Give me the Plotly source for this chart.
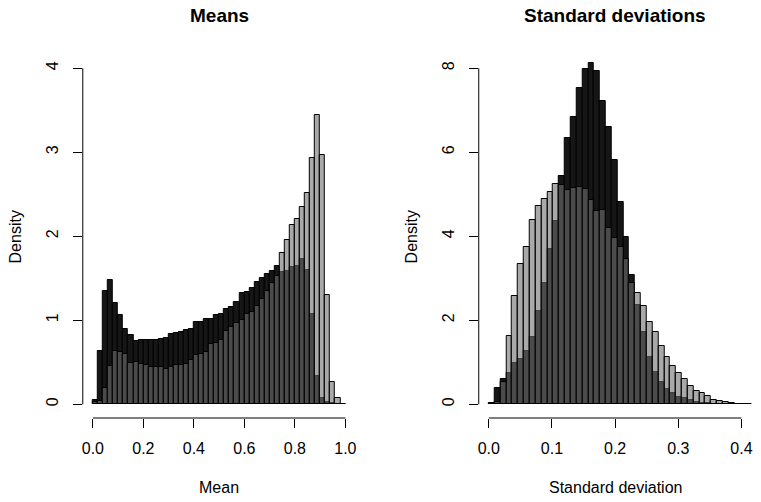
import numpy as np
import plotly.graph_objects as go

# densities (dark = first sample, light = second)
mean_bin_width = 0.02
mean_dark = [0.05, 0.64, 1.35, 1.48, 1.21, 1.06, 0.90, 0.83, 0.75, 0.76,
             0.76, 0.76, 0.77, 0.78, 0.79, 0.84, 0.85, 0.86, 0.88, 0.90,
             0.98, 0.98, 1.01, 1.02, 1.06, 1.07, 1.14, 1.16, 1.22, 1.32,
             1.34, 1.39, 1.46, 1.50, 1.55, 1.59, 1.65, 1.58, 1.59, 1.64,
             1.65, 1.73, 1.60, 1.08, 0.34, 0.07, 0.03, 0.01, 0.0, 0.0]
mean_light = [0.03, 0.04, 0.20, 0.46, 0.63, 0.62, 0.60, 0.49, 0.50, 0.48,
              0.47, 0.45, 0.45, 0.45, 0.42, 0.45, 0.47, 0.47, 0.48, 0.53,
              0.59, 0.60, 0.62, 0.72, 0.73, 0.77, 0.87, 0.92, 0.97, 1.00,
              1.08, 1.10, 1.17, 1.25, 1.35, 1.44, 1.53, 1.80, 1.96, 2.14,
              2.21, 2.35, 2.52, 2.93, 3.44, 2.97, 1.30, 0.26, 0.08, 0.0]

sd_bin_width = 0.4167 / 45
sd_dark = [0.04, 0.38, 0.61, 0.74, 0.99, 1.07, 1.28, 1.59, 2.21, 2.88,
           3.70, 4.37, 5.44, 6.33, 6.83, 7.52, 7.98, 8.12, 7.94, 7.22,
           6.61, 5.82, 4.81, 3.99, 3.08, 2.37, 1.73, 1.13, 0.78, 0.54,
           0.37, 0.28, 0.17, 0.16, 0.10, 0.06, 0.04, 0.02, 0.01, 0.0,
           0.0, 0.0, 0.0, 0.0, 0.0]
sd_light = [0.0, 0.06, 0.54, 1.63, 2.58, 3.33, 3.74, 4.39, 4.73, 4.89,
            5.06, 5.24, 5.22, 5.09, 5.14, 5.17, 5.12, 4.87, 4.59, 4.63,
            4.19, 3.95, 3.75, 3.45, 2.88, 2.64, 2.33, 1.97, 1.71, 1.39,
            1.13, 0.91, 0.75, 0.60, 0.44, 0.32, 0.28, 0.20, 0.10, 0.07,
            0.05, 0.02, 0.015, 0.01, 0.005]

mean_ticks = [0.0, 0.2, 0.4, 0.6, 0.8, 1.0]
sd_ticks = [0.0, 0.1, 0.2, 0.3, 0.4]

W, H = 761, 502
FONT = "Liberation Sans, Arial, Helvetica, sans-serif"
dark_fill = "#161616"
light_fill = "rgba(111,111,111,0.6)"

fig = go.Figure()


def add_hist(vals, width, color, xa, ya):
    mids = (np.arange(len(vals)) + 0.5) * width
    fig.add_trace(go.Bar(x=mids, y=vals, width=width, xaxis=xa, yaxis=ya,
                         marker=dict(color=color, line=dict(color="black", width=1)),
                         showlegend=False, hoverinfo="skip"))


add_hist(mean_dark, mean_bin_width, dark_fill, "x", "y")
add_hist(mean_light, mean_bin_width, light_fill, "x", "y")
add_hist(sd_dark, sd_bin_width, dark_fill, "x2", "y2")
add_hist(sd_light, sd_bin_width, light_fill, "x2", "y2")

ydom = [(H - 418) / H, (H - 55) / H]
common = dict(showgrid=False, zeroline=False, showline=False, ticks="outside",
              ticklen=9, tickwidth=1, tickcolor="black",
              tickfont=dict(family=FONT, size=16, color="black"))
xcommon = dict(ticklabelstandoff=7, **common)
ycommon = dict(ticklabelstandoff=8, tickangle=-90, **common)

fig.update_layout(
    width=W, height=H, margin=dict(l=0, r=0, t=0, b=0),
    paper_bgcolor="white", plot_bgcolor="white",
    barmode="overlay", bargap=0,
    xaxis=dict(domain=[82 / W, 355.4 / W], range=[-0.04, 1.04], anchor="y",
               tickvals=mean_ticks, ticktext=[f"{t:.1f}" for t in mean_ticks], **xcommon),
    yaxis=dict(domain=ydom, range=[-0.163, 4.158], anchor="x",
               tickvals=[0, 1, 2, 3, 4], **ycommon),
    xaxis2=dict(domain=[479 / W, 752.5 / W], range=[-0.016, 0.416], anchor="y2",
                tickvals=sd_ticks, ticktext=[f"{t:.1f}" for t in sd_ticks], **xcommon),
    yaxis2=dict(domain=ydom, range=[-0.327, 8.316], anchor="x2",
                tickvals=[0, 2, 4, 6, 8], **ycommon),
)

# R-style axis lines that run only from first to last tick
axis_line = dict(color="black", width=1)
fig.add_shape(type="line", xref="x", yref="y domain", x0=0, x1=1, y0=0, y1=0, line=axis_line)
fig.add_shape(type="line", xref="x domain", yref="y", x0=0, x1=0, y0=0, y1=4, line=axis_line)
fig.add_shape(type="line", xref="x2", yref="y2 domain", x0=0, x1=0.4, y0=0, y1=0, line=axis_line)
fig.add_shape(type="line", xref="x2 domain", yref="y2", x0=0, x1=0, y0=0, y1=8, line=axis_line)


def label(text, x, y, size=16, bold=False, angle=0):
    fig.add_annotation(text=f"<b>{text}</b>" if bold else text,
                       x=x / W, y=1 - y / H, xref="paper", yref="paper",
                       showarrow=False, textangle=angle,
                       xanchor="center", yanchor="middle",
                       font=dict(family=FONT, size=size, color="black"))


label("Means", 218.7, 16, size=19, bold=True)
label("Standard deviations", 615.8, 16, size=19, bold=True)
label("Mean", 218.7, 487)
label("Standard deviation", 615.8, 487)
label("Density", 15, 236.5, angle=-90)
label("Density", 412, 236.5, angle=-90)

# the page gets no body margin so the 761x502 figure fills the window
fig.write_html("out.html", config={"displayModeBar": False},
               post_script="document.body.style.margin='0';")
